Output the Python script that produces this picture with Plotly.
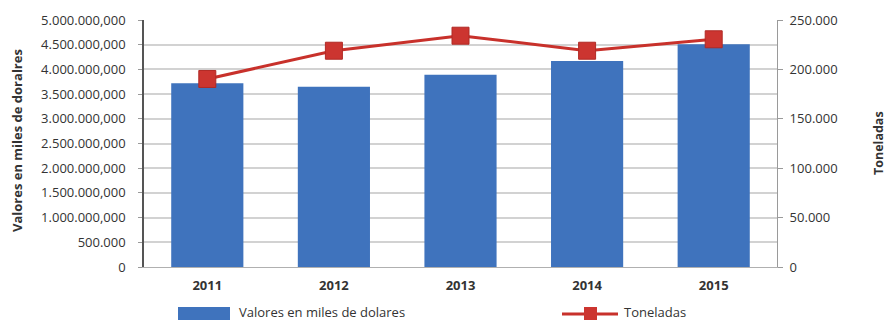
import plotly.graph_objects as go

# Data
years = ["2011", "2012", "2013", "2014", "2015"]
valores = [3.72e9, 3.65e9, 3.89e9, 4.17e9, 4.51e9]        # miles de dolares
toneladas = [190300, 218900, 234100, 218900, 230500]       # toneladas

left_tickvals = [0, 5e8, 1e9, 1.5e9, 2e9, 2.5e9, 3e9, 3.5e9, 4e9, 4.5e9, 5e9]
left_ticktext = ["0", "500.000", "1.000.000,000", "1.500.000,000", "2.000.000,000",
                 "2.500.000,000", "3.000.000,000", "3.500.000,000", "4.000.000,000",
                 "4.500.000,000", "5.000.000,000"]
right_tickvals = [0, 50000, 100000, 150000, 200000, 250000]
right_ticktext = ["0", "50.000", "100.000", "150.000", "200.000", "250.000"]

BLUE = "#3F73BD"
RED = "#C8312B"
TXT = "#333333"
FONT = "Open Sans"

W, H = 889, 322
L, R, T, B = 144, 112, 20, 55
pw, ph = W - L - R, H - T - B


def px_x(x):
    return (x - L) / pw


def px_y(y):
    return (H - B - y) / ph


fig = go.Figure()
fig.add_trace(go.Bar(
    x=years, y=valores, name="Valores en miles de dolares",
    marker=dict(color=BLUE, line=dict(width=0)), yaxis="y",
))
fig.add_trace(go.Scatter(
    x=years, y=toneladas, name="Toneladas", yaxis="y2", mode="lines+markers",
    line=dict(color=RED, width=3),
    marker=dict(symbol="square", size=17, color="#CC3530", line=dict(color="#B02A25", width=1)),
))

fig.update_layout(
    width=W, height=H,
    margin=dict(l=L, r=R, t=T, b=B),
    paper_bgcolor="white", plot_bgcolor="white",
    showlegend=False,
    bargap=0.43,
    font=dict(family=FONT, size=13, color=TXT),
    xaxis=dict(
        showgrid=False, showline=True, linecolor="#b0b0b0", linewidth=1,
        tickfont=dict(family=FONT, size=13, color=TXT, weight="bold"),
        ticks="", ticklabelstandoff=6,
    ),
    yaxis=dict(
        range=[0, 5e9], tickvals=left_tickvals, ticktext=left_ticktext,
        showgrid=True, gridcolor="#d2d2d2", gridwidth=1.5,
        showline=True, linecolor="#555555", linewidth=1.5,
        ticks="outside", ticklen=4, tickcolor="#9a9a9a",
        ticklabelstandoff=10,
        tickfont=dict(family=FONT, size=13, color=TXT),
        zeroline=False,
    ),
    yaxis2=dict(
        range=[0, 250000], tickvals=right_tickvals, ticktext=right_ticktext,
        overlaying="y", side="right", showgrid=False,
        showline=True, linecolor="#9a9a9a", linewidth=1,
        ticks="outside", ticklen=5, tickcolor="#9a9a9a",
        ticklabelstandoff=4,
        tickfont=dict(family=FONT, size=13, color=TXT),
        zeroline=False,
    ),
)

# Axis titles
fig.add_annotation(
    text="<b>Valores en miles de doralres</b>", textangle=-90,
    xref="paper", yref="paper", x=px_x(17), y=px_y(141),
    showarrow=False, font=dict(family=FONT, size=13, color=TXT),
    xanchor="center", yanchor="middle",
)
fig.add_annotation(
    text="<b>Toneladas</b>", textangle=-90,
    xref="paper", yref="paper", x=px_x(878), y=px_y(143),
    showarrow=False, font=dict(family=FONT, size=12.5, color=TXT),
    xanchor="center", yanchor="middle",
)

# Legend
ly = 312
fig.add_shape(type="rect", xref="paper", yref="paper",
              x0=px_x(178), x1=px_x(230), y0=px_y(ly - 5), y1=px_y(ly + 8),
              fillcolor=BLUE, line=dict(width=0))
fig.add_annotation(text="Valores en miles de dolares", xref="paper", yref="paper",
                   x=px_x(237), y=px_y(ly), xanchor="left", yanchor="middle",
                   showarrow=False, font=dict(family=FONT, size=13, color=TXT))
fig.add_shape(type="line", xref="paper", yref="paper",
              x0=px_x(562), x1=px_x(618), y0=px_y(ly + 2), y1=px_y(ly + 2),
              line=dict(color=RED, width=3))
fig.add_shape(type="rect", xref="paper", yref="paper",
              x0=px_x(584), x1=px_x(597), y0=px_y(ly - 5), y1=px_y(ly + 8),
              fillcolor="#CC3530", line=dict(width=0))
fig.add_annotation(text="Toneladas", xref="paper", yref="paper",
                   x=px_x(622), y=px_y(ly), xanchor="left", yanchor="middle",
                   showarrow=False, font=dict(family=FONT, size=13, color=TXT))

fig.write_html("out.html")
